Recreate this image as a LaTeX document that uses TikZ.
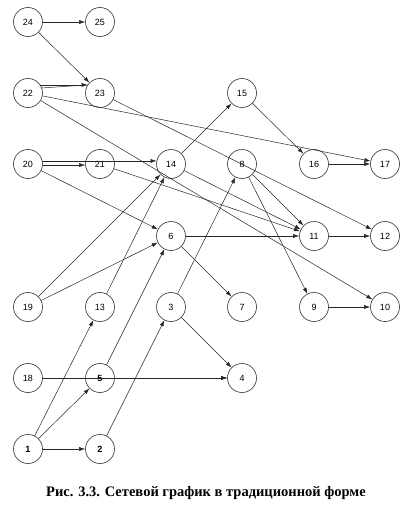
\documentclass[tikz,border=0pt]{standalone}
\usepackage{fontspec}
\setmainfont{Liberation Serif}
\newfontfamily\lsans{Liberation Sans}
\usetikzlibrary{arrows.meta}
\begin{document}
\begin{tikzpicture}[x=1pt,y=-1pt,
  ev/.style={circle,draw=black!80,line width=0.6pt,minimum size=29pt,inner sep=0pt,font=\lsans\fontsize{9}{10}\selectfont},
  evb/.style={ev,font=\lsans\bfseries\fontsize{9}{10}\selectfont},
  arr/.style={draw=black!85,line width=0.5pt,-{Latex[length=6pt,width=4pt]}},
  ln/.style={draw=black!85,line width=0.5pt}]
\useasboundingbox (0,0) rectangle (407,514);
% columns 28,100,171,242,314,385 ; rows 22,93,164,236,307,378,449
\node[ev] (n24) at (28,22) {24};
\node[ev] (n25) at (100,22) {25};
\node[ev] (n22) at (28,93) {22};
\node[ev] (n23) at (100,93) {23};
\node[ev] (n15) at (242,93) {15};
\node[ev] (n20) at (28,164) {20};
\node[ev] (n21) at (100,164) {21};
\node[ev] (n14) at (171,164) {14};
\node[ev] (n8) at (242,164) {8};
\node[ev] (n16) at (314,164) {16};
\node[ev] (n17) at (385,164) {17};
\node[ev] (n6) at (171,236) {6};
\node[ev] (n11) at (314,236) {11};
\node[ev] (n12) at (385,236) {12};
\node[ev] (n19) at (28,307) {19};
\node[ev] (n13) at (100,307) {13};
\node[ev] (n3) at (171,307) {3};
\node[ev] (n7) at (242,307) {7};
\node[ev] (n9) at (314,307) {9};
\node[ev] (n10) at (385,307) {10};
\node[ev] (n18) at (28,378) {18};
\node[evb] (n5) at (100,378) {5};
\node[ev] (n4) at (242,378) {4};
\node[evb] (n1) at (28,449) {1};
\node[evb] (n2) at (100,449) {2};
% connectors
\draw[arr] (n24) -- (n25);
\draw[arr] (n24) -- (n23);
\draw[arr] (n22.33) -- (n23.147);
\draw[ln] (n22.20) -- (n23.147);
\draw[arr] (n22) -- (n17);
\draw[arr] (n22) -- (n10);
\draw[arr] (n23) -- (n12);
\draw[arr] (n20.-4) -- (n21.184);
\draw[arr] (n20.12) -- (n14.168);
\draw[arr] (n20) -- (n6);
\draw[arr] (n21) -- (n11);
\draw[arr] (n14) -- (n15);
\draw[arr] (n14) -- (n11);
\draw[arr] (n15) -- (n16);
\draw[arr] (n16) -- (n17);
\draw[arr] (n8) -- (n11);
\draw[arr] (n8) -- (n9);
\draw[arr] (n11) -- (n12);
\draw[arr] (n6) -- (n11);
\draw[arr] (n6) -- (n7);
\draw[arr] (n19) -- (n14);
\draw[arr] (n19) -- (n6);
\draw[arr] (n13) -- (n14);
\draw[arr] (n3) -- (n8);
\draw[arr] (n3) -- (n4);
\draw[arr] (n9) -- (n10);
\draw[arr] (n18) -- (n4);
\draw[arr] (n5) -- (n4);
\draw[arr] (n5) -- (n6);
\draw[arr] (n1) -- (n13);
\draw[arr] (n1) -- (n5);
\draw[arr] (n1) -- (n2);
\draw[arr] (n2) -- (n3);
\node[font=\bfseries\fontsize{14.5}{16}\selectfont] (cap) at (206,493) {Рис. 3.3. Сетевой график в традиционной форме};
\end{tikzpicture}
\end{document}
